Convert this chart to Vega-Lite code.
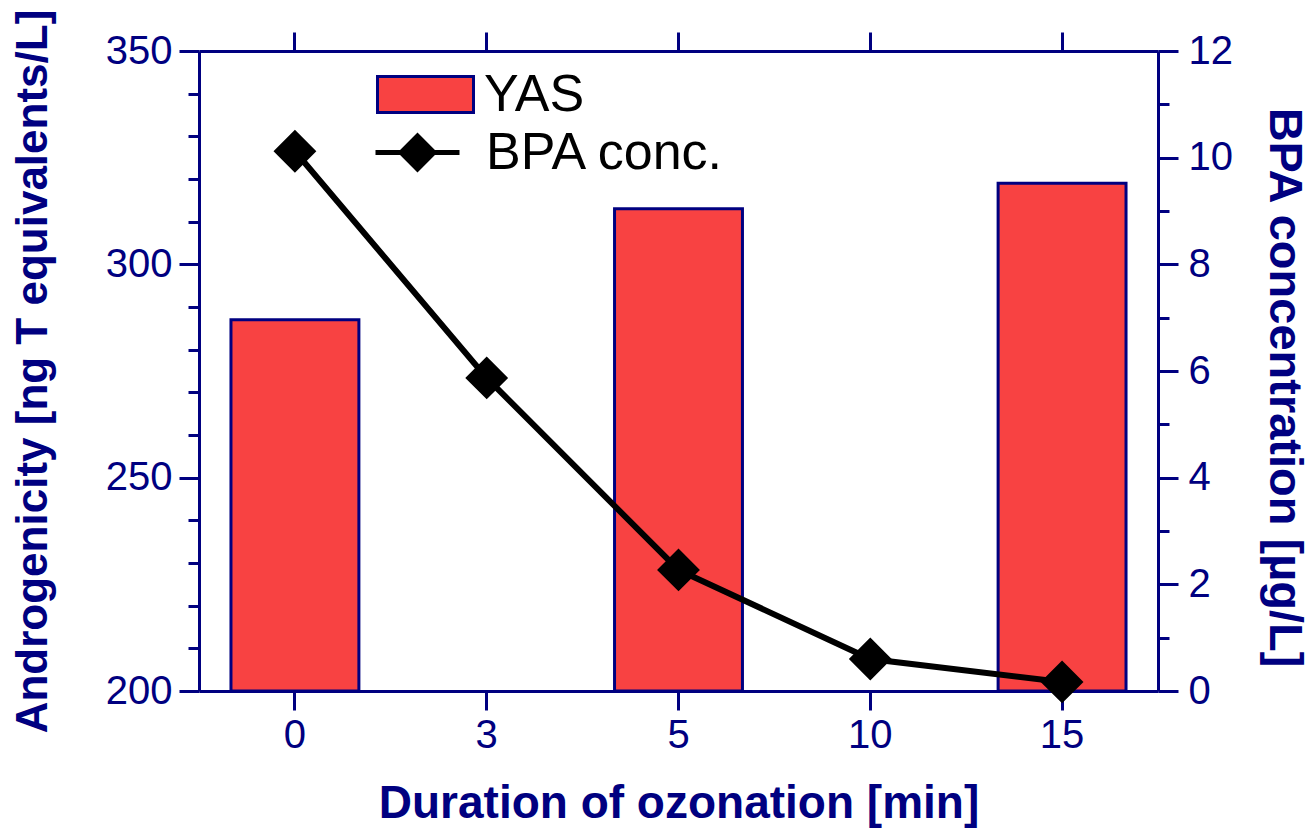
{
  "$schema": "https://vega.github.io/schema/vega-lite/v6.json",
  "width": 959,
  "height": 640,
  "autosize": "none",
  "padding": {"left": 199, "top": 51, "right": 155, "bottom": 141},
  "background": "white",
  "data": {
    "values": [
      {"t": 0, "yas": 287, "bpa": 10.12},
      {"t": 3, "yas": null, "bpa": 5.87},
      {"t": 5, "yas": 313, "bpa": 2.27},
      {"t": 10, "yas": null, "bpa": 0.6},
      {"t": 15, "yas": 319, "bpa": 0.17}
    ]
  },
  "config": {
    "view": {"stroke": null},
    "axis": {
      "grid": false,
      "domainColor": "#000080",
      "domainWidth": 3,
      "tickColor": "#000080",
      "tickWidth": 3,
      "labelColor": "#000080",
      "labelFont": "Liberation Sans",
      "labelFontSize": 40,
      "titleColor": "#000080",
      "titleFont": "Liberation Sans",
      "titleFontSize": 44,
      "titleFontWeight": "bold"
    },
    "legend": {
      "labelFont": "Liberation Sans",
      "labelFontSize": 52,
      "labelColor": "black",
      "labelLimit": 0,
      "padding": 0
    }
  },
  "layer": [
    {
      "mark": {"type": "bar", "stroke": "#000080", "strokeWidth": 3},
      "encoding": {
        "x": {
          "field": "t",
          "type": "ordinal",
          "scale": {"paddingInner": 0.333, "paddingOuter": 0.1667},
          "axis": {
            "orient": "bottom",
            "title": "Duration of ozonation [min]",
            "titleFontSize": 46,
            "labelAngle": 0,
            "tickSize": 19,
            "labelPadding": 5,
            "titlePadding": 26
          }
        },
        "y": {
          "field": "yas",
          "type": "quantitative",
          "scale": {"domain": [200, 350], "zero": false, "nice": false},
          "axis": {
            "orient": "left",
            "title": "Androgenicity [ng T equivalents/L]",
            "values": [200, 210, 220, 230, 240, 250, 260, 270, 280, 290, 300, 310, 320, 330, 340, 350],
            "labelExpr": "datum.value % 50 === 0 ? datum.label : ''",
            "tickSize": {"condition": {"test": "datum.value % 50 === 0", "value": 20}, "value": 11},
            "labelPadding": 7,
            "titlePadding": 50
          }
        },
        "y2": {"datum": 200},
        "fill": {
          "datum": "YAS",
          "scale": {"range": ["#F84242"]},
          "legend": {
            "orient": "none",
            "legendX": 177,
            "legendY": -6,
            "title": null,
            "symbolType": "M-1,-0.375H1V0.375H-1Z",
            "symbolSize": 9216,
            "symbolStrokeColor": "#000080",
            "symbolStrokeWidth": 3,
            "symbolFillColor": "#F84242",
            "symbolOpacity": 1,
            "labelOffset": 9
          }
        }
      }
    },
    {
      "mark": {
        "type": "line",
        "strokeWidth": 6,
        "point": {"filled": true, "shape": "diamond", "size": 1600, "color": "black"}
      },
      "encoding": {
        "x": {
          "field": "t",
          "type": "ordinal",
          "axis": {"orient": "top", "labels": false, "title": null, "tickSize": 19}
        },
        "y": {
          "field": "bpa",
          "type": "quantitative",
          "scale": {"domain": [0, 12], "nice": false},
          "axis": {
            "orient": "right",
            "title": "BPA concentration [µg/L]",
            "titleFontSize": 47,
            "titleY": 336,
            "values": [0, 1, 2, 3, 4, 5, 6, 7, 8, 9, 10, 11, 12],
            "labelExpr": "datum.value % 2 === 0 ? datum.label : ''",
            "tickSize": {"condition": {"test": "datum.value % 2 === 0", "value": 20}, "value": 11},
            "labelPadding": 10,
            "titlePadding": 27
          }
        },
        "stroke": {
          "datum": "BPA conc.",
          "scale": {"range": ["#000000"]},
          "legend": {
            "orient": "none",
            "legendX": 174,
            "legendY": 57,
            "title": null,
            "symbolType": "M-1,0H1M-0.39,0L0,-0.39L0.39,0L0,0.39Z",
            "symbolSize": 7056,
            "symbolStrokeWidth": 5,
            "symbolStrokeColor": "black",
            "symbolFillColor": "black",
            "labelOffset": 24,
            "encode": {"symbols": {"update": {"fill": {"value": "black"}, "opacity": {"value": 1}}}}
          }
        }
      }
    }
  ],
  "resolve": {"scale": {"y": "independent"}, "axis": {"x": "independent"}}
}
